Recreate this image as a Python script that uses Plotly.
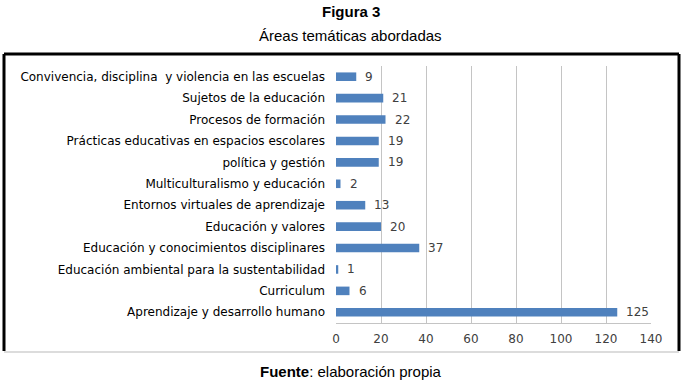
import plotly.graph_objects as go

categories = [
    "Convivencia, disciplina  y violencia en las escuelas",
    "Sujetos de la educación",
    "Procesos de formación",
    "Prácticas educativas en espacios escolares",
    "política y gestión",
    "Multiculturalismo y educación",
    "Entornos virtuales de aprendizaje",
    "Educación y valores",
    "Educación y conocimientos disciplinares",
    "Educación ambiental para la sustentabilidad",
    "Curriculum",
    "Aprendizaje y desarrollo humano",
]
values = [9, 21, 22, 19, 19, 2, 13, 20, 37, 1, 6, 125]
x_ticks = [0, 20, 40, 60, 80, 100, 120, 140]

W, H = 681, 382
L, R, T, B = 336, 30, 66, 59
pw, ph = W - L - R, H - T - B

def px_x(p):
    return (p - L) / pw

def px_y(p):
    return (H - B - p) / ph

fig = go.Figure()
fig.add_trace(go.Bar(
    x=values, y=categories, orientation="h",
    marker=dict(color="#4F81BD", line=dict(width=0)),
    width=0.4, hoverinfo="skip",
))

for c, v in zip(categories, values):
    fig.add_annotation(x=v, y=c, text=str(v), showarrow=False, xanchor="left",
                       xshift=7, font=dict(family="DejaVu Sans", size=12, color="#404040"))

shapes = []
shapes.append(dict(type="line", xref="paper", yref="paper", x0=px_x(4), x1=px_x(679),
                   y0=px_y(352), y1=px_y(352), line=dict(color="#dcdcdc", width=2)))
shapes.append(dict(type="line", xref="paper", yref="paper", x0=px_x(4), x1=px_x(679),
                   y0=px_y(54), y1=px_y(54), line=dict(color="black", width=3)))
shapes.append(dict(type="line", xref="paper", yref="paper", x0=px_x(4), x1=px_x(4),
                   y0=px_y(54), y1=px_y(351), line=dict(color="black", width=3)))
shapes.append(dict(type="line", xref="paper", yref="paper", x0=px_x(679), x1=px_x(679),
                   y0=px_y(54), y1=px_y(351), line=dict(color="black", width=3)))
fig.update_layout(shapes=shapes)

fig.add_annotation(xref="paper", yref="paper", x=px_x(351), y=px_y(11),
                   xanchor="center", yanchor="middle",
                   text="<b>Figura 3</b>", showarrow=False,
                   font=dict(family="Liberation Sans", size=15, color="black"))
fig.add_annotation(xref="paper", yref="paper", x=px_x(350), y=px_y(36),
                   xanchor="center", yanchor="middle",
                   text="Áreas temáticas abordadas", showarrow=False,
                   font=dict(family="Liberation Sans", size=15, color="black"))
fig.add_annotation(xref="paper", yref="paper", x=px_x(351), y=px_y(371),
                   xanchor="center", yanchor="middle",
                   text="<b>Fuente</b>: elaboración propia", showarrow=False,
                   font=dict(family="Liberation Sans", size=15, color="black"))

fig.update_layout(
    width=W, height=H,
    margin=dict(l=L, r=R, t=T, b=B, pad=0),
    paper_bgcolor="white", plot_bgcolor="white",
    showlegend=False,
    bargap=0.6,
    xaxis=dict(range=[0, 140], tickvals=x_ticks, showgrid=True, gridcolor="#c4c4c4", gridwidth=1,
               zeroline=False, showline=True, linecolor="#c4c4c4", linewidth=1,
               ticks="", tickfont=dict(family="DejaVu Sans", size=12, color="#404040"),
               ticklabelstandoff=5, fixedrange=True),
    yaxis=dict(categoryorder="array", categoryarray=categories[::-1], autorange=True,
               showgrid=False, zeroline=False, showline=False, ticks="",
               ticklabelstandoff=10,
               tickfont=dict(family="DejaVu Sans", size=12, color="black"), fixedrange=True),
)

fig.write_html("out.html", post_script="document.body.style.margin='0';",
               config={"displayModeBar": False})
